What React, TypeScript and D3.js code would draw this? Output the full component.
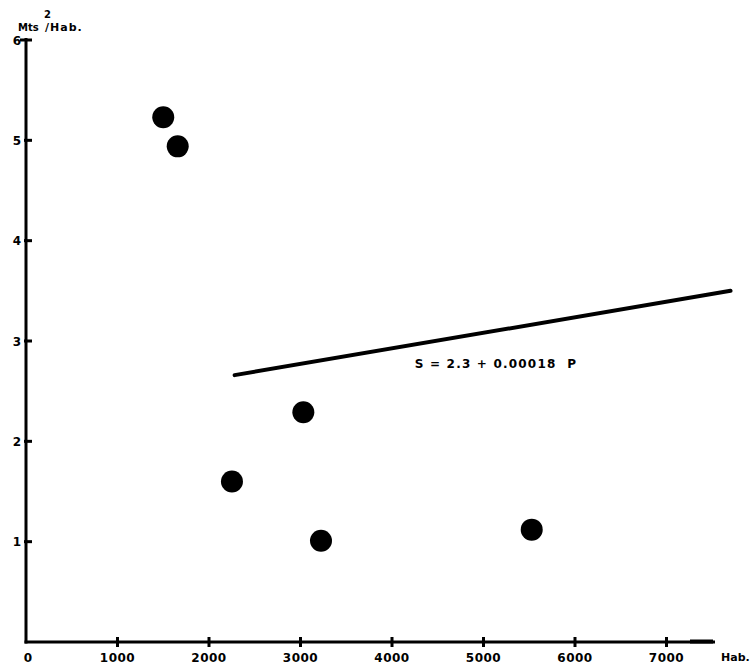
import React from "react";
import * as d3 from "d3";

// Population (Hab.) vs green area per inhabitant (Mts²/Hab.)
const population = [1500, 1658, 2251, 3031, 3224, 5527];
const areaPerHab = [5.23, 4.94, 1.6, 2.29, 1.01, 1.12];
const lineP = [2280, 7700];
const lineS = [2.66, 3.5];
const xTicks = [0, 1000, 2000, 3000, 4000, 5000, 6000, 7000];
const yTicks = [1, 2, 3, 4, 5, 6];
const equation = "S = 2.3 + 0.00018  P";

const W = 750;
const H = 664;

export default function App() {
  const x = d3.scaleLinear().domain([0, 7500]).range([26, 712.25]);
  const y = d3.scaleLinear().domain([0, 6]).range([642, 40]);
  const font = "'DejaVu Sans', sans-serif";
  const lineGen = d3
    .line<number>()
    .x((_, i) => x(lineP[i]))
    .y((d) => y(d));

  return (
    <svg
      width={W}
      height={H}
      viewBox={`0 0 ${W} ${H}`}
      style={{ position: "absolute", left: 0, top: 0, background: "#fff" }}
      fontFamily={font}
      fontWeight="bold"
    >
      <rect width={W} height={H} fill="#fff" />
      {/* axes */}
      <line x1={x(0)} y1={y(6) - 2} x2={x(0)} y2={y(0) + 1.5} stroke="#000" strokeWidth={3} />
      <line x1={x(0) - 1.5} y1={y(0)} x2={715} y2={y(0)} stroke="#000" strokeWidth={3} />
      <line x1={690} y1={y(0) - 0.5} x2={713} y2={y(0) - 0.5} stroke="#000" strokeWidth={4} />
      {/* y ticks */}
      {yTicks.map((t) => (
        <g key={"y" + t}>
          <line
            x1={t === 6 ? x(0) - 6 : x(0) - 2}
            x2={x(0) + 6}
            y1={y(t)}
            y2={y(t)}
            stroke="#000"
            strokeWidth={3}
          />
          <text x={21} y={y(t) + 1} textAnchor="end" dominantBaseline="middle" fontSize={12}>
            {t}
          </text>
        </g>
      ))}
      {/* x ticks */}
      {xTicks.map((t) =>
        t === 0 ? (
          <text key="x0" x={x(0) + 2} y={658} textAnchor="middle" dominantBaseline="middle" fontSize={12}>
            0
          </text>
        ) : (
          <g key={"x" + t}>
            <line x1={x(t)} x2={x(t)} y1={y(0) - 5} y2={y(0) + 5} stroke="#000" strokeWidth={3} />
            <text x={x(t)} y={658} textAnchor="middle" dominantBaseline="middle" fontSize={12} letterSpacing={0.5}>
              {t}
            </text>
          </g>
        )
      )}
      <text x={721} y={658} dominantBaseline="middle" fontSize={11}>
        Hab.
      </text>
      {/* y title */}
      <text x={18} y={28} dominantBaseline="middle" fontSize={10}>
        Mts
      </text>
      <text x={44} y={15} dominantBaseline="middle" fontSize={10}>
        2
      </text>
      <text x={45} y={28} dominantBaseline="middle" fontSize={11} letterSpacing={1}>
        /Hab.
      </text>
      {/* regression line */}
      <path d={lineGen(lineS) || ""} fill="none" stroke="#000" strokeWidth={4} strokeLinecap="round" />
      <text x={496} y={364} textAnchor="middle" dominantBaseline="middle" fontSize={12} letterSpacing={1.2} xmlSpace="preserve" style={{ whiteSpace: "pre" }}>
        {equation}
      </text>
      {/* points */}
      {population.map((p, i) => (
        <circle key={i} cx={x(p)} cy={y(areaPerHab[i])} r={11} fill="#000" />
      ))}
    </svg>
  );
}
